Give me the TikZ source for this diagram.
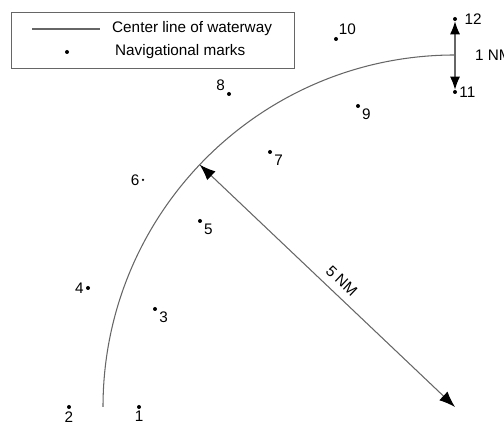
\documentclass[tikz,border=0pt]{standalone}
\usepackage{fontspec}
\setmainfont{Liberation Sans}
\usetikzlibrary{arrows.meta}

\begin{document}
\begin{tikzpicture}[>={Latex[black,length=3.2mm,width=2.4mm]},
  font=\fontsize{8.7}{10.4}\selectfont,
  navmark/.style={circle,fill=black,inner sep=0pt,minimum size=0.8mm},
  waterway/.style={draw=black!60,line width=0.6pt},
  every label/.style={inner sep=1pt}]
\useasboundingbox (0,0) rectangle (10.08,8.5);

% legend
\node[draw=black!60,rectangle,minimum width=5.66cm,minimum height=1.12cm] (legend) at (3.05,7.70) {};
\coordinate (lstart) at (0.64,7.92);
\coordinate (lend) at (2.00,7.92);
\draw[waterway] (lstart) -- (lend);
\node[anchor=west] (linetext) at (2.12,7.92) {Center line of waterway};
\node[navmark] (legdot) at (1.34,7.46) {};
\node[anchor=west] (dottext) at (2.18,7.46) {Navigational marks};

% center line of the waterway
\coordinate (ctr) at (9.10,0.36);
\coordinate (rim) at ([shift={(136.5:7.04)}]ctr);
\draw[waterway] ([shift={(180:7.04)}]ctr) arc[start angle=180,end angle=90,radius=7.04];

% navigational marks
\node[navmark,label={below:1}] (m1) at (2.78,0.36) {};
\node[navmark,label={below:2}] (m2) at (1.38,0.36) {};
\node[navmark,label={-20:3}] (m3) at (3.10,2.32) {};
\node[navmark,label={left:4}] (m4) at (1.76,2.74) {};
\node[navmark,label={-30:5}] (m5) at (4.00,4.08) {};
\node[navmark,minimum size=0.5mm,label={left:6}] (m6) at (2.86,4.90) {};
\node[navmark,label={-15:7}] (m7) at (5.40,5.46) {};
\node[navmark,label={150:8}] (m8) at (4.58,6.62) {};
\node[navmark,label={-30:9}] (m9) at (7.16,6.38) {};
\node[navmark,label={70:10}] (m10) at (6.72,7.72) {};
\node[navmark,label={right:11}] (m11) at (9.10,6.66) {};
\node[navmark,label={[label distance=3pt]right:12}] (m12) at (9.10,8.12) {};

% distances
\draw[<->,black!60,line width=0.6pt] (rim) -- (ctr) node[pos=0.52,above=1pt,sloped,text=black] (fivenm) {5 NM};
\draw[<->,black!60,line width=0.6pt,>={Latex[black,length=2.6mm,width=2mm]}] (m11) -- (m12);
\node[anchor=west] (onenm) at (9.38,7.40) {1 NM};
\end{tikzpicture}
\end{document}
